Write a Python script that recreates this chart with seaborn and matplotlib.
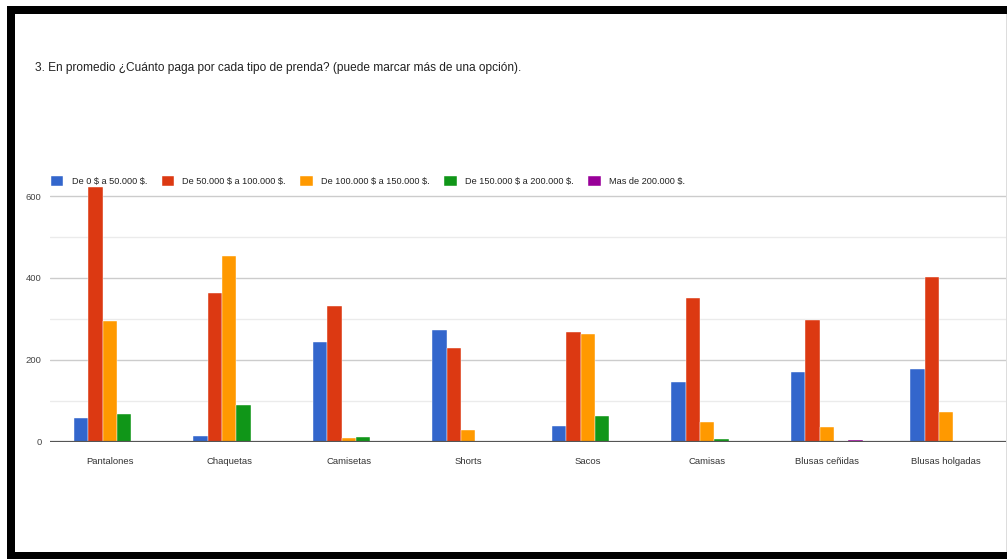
import matplotlib
matplotlib.use("Agg")
import matplotlib.pyplot as plt
import seaborn as sns
import pandas as pd
from matplotlib.patches import Rectangle
from matplotlib.ticker import MultipleLocator

# Survey responses: garment types and price ranges
prendas = ["Pantalones", "Chaquetas", "Camisetas", "Shorts", "Sacos",
           "Camisas", "Blusas ceñidas", "Blusas holgadas"]
rangos = ["De 0 $ a 50.000 $.", "De 50.000 $ a 100.000 $.",
          "De 100.000 $ a 150.000 $.", "De 150.000 $ a 200.000 $.",
          "Mas de 200.000 $."]

de_0_a_50 = [57, 15, 243, 272, 38, 147, 171, 177]
de_50_a_100 = [621, 364, 332, 228, 269, 350, 298, 401]
de_100_a_150 = [295, 453, 9, 29, 262, 47, 37, 72]
de_150_a_200 = [67, 90, 11, 0, 63, 7, 0, 0]
mas_de_200 = [0, 2, 0, 0, 0, 0, 5, 0]

colores = ["#3366CC", "#DC3912", "#FF9900", "#109618", "#990099"]

series = [de_0_a_50, de_50_a_100, de_100_a_150, de_150_a_200, mas_de_200]
df = pd.DataFrame({
    "prenda": [p for s in series for p in prendas],
    "rango": [r for r, s in zip(rangos, series) for _ in s],
    "n": [v for s in series for v in s],
})

sns.set_theme(style="white")
plt.rcParams["font.family"] = ["Liberation Sans", "DejaVu Sans"]
plt.rcParams["text.parse_math"] = False

W, H = 1007, 559
fig = plt.figure(figsize=(W / 100, H / 100), dpi=100)
fig.patch.set_facecolor("white")

# axes placement in pixels
x0, x1 = 50, 1006
y_base = 441.7
px_per_unit = 0.4095
ytop_val = 640
y_top = y_base - ytop_val * px_per_unit
ax = fig.add_axes([x0 / W, (H - y_base) / H, (x1 - x0) / W, (y_base - y_top) / H])

sns.barplot(data=df, x="prenda", y="n", hue="rango", hue_order=rangos,
            order=prendas, palette=colores, saturation=1, width=0.6, gap=0,
            edgecolor="white", linewidth=0.3, ax=ax, legend=True, zorder=3)

ax.set_ylim(0, ytop_val)
ax.set_xlim(-0.5, len(prendas) - 0.5)
ax.yaxis.set_major_locator(MultipleLocator(200))
ax.yaxis.set_minor_locator(MultipleLocator(100))
ax.grid(True, which="major", axis="y", color="#cccccc", linewidth=1.0, zorder=0)
ax.grid(True, which="minor", axis="y", color="#ebebeb", linewidth=1.0, zorder=0)
ax.set_axisbelow(True)
ax.axhline(0, color="#555555", linewidth=1.6, zorder=5)
for sp in ax.spines.values():
    sp.set_visible(False)
ax.set_xlabel("")
ax.set_ylabel("")
ax.tick_params(axis="x", length=0, pad=11, labelsize=6.8, labelcolor="#333333")
ax.tick_params(axis="y", which="both", length=0, pad=6, labelsize=6.8, labelcolor="#444444")

# legend on one row above the plot
handles, labels = ax.get_legend_handles_labels()
ax.get_legend().remove()
fig.legend(handles, labels, loc="center left",
           bbox_to_anchor=(51 / W, (H - 181) / H), ncol=5, frameon=False,
           fontsize=6.6, handlelength=1.35, handleheight=1.35,
           handletextpad=0.9, columnspacing=1.6, borderpad=0, borderaxespad=0,
           labelcolor="#222222")

fig.text(35 / W, (H - 68) / H,
         "3. En promedio ¿Cuánto paga por cada tipo de prenda? (puede marcar más de una opción).",
         fontsize=8.6, color="#222222", va="center", ha="left")

# black frame around the card
for (rx, ry, rw, rh) in [(7, 6, 1000, 8), (7, 6, 8, 546), (7, 552, 1000, 7)]:
    fig.add_artist(Rectangle((rx / W, (H - ry - rh) / H), rw / W, rh / H,
                             transform=fig.transFigure, facecolor="black",
                             edgecolor="none", zorder=10))
fig.add_artist(Rectangle((1005.5 / W, (H - 552) / H), 1 / W, 538 / H,
                         transform=fig.transFigure, facecolor="#dddddd",
                         edgecolor="none", zorder=10))

fig.savefig("out.png", dpi=100, facecolor="white")
